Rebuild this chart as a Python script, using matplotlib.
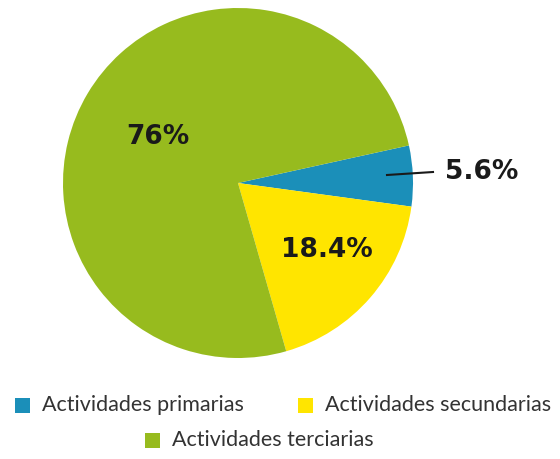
import matplotlib.pyplot as plt
from matplotlib.patches import Rectangle

# Datos
categorias = ["Actividades primarias", "Actividades secundarias", "Actividades terciarias"]
valores = [5.6, 18.4, 76]
etiquetas = ["5.6%", "18.4%", "76%"]
colores = ["#1b8fb9", "#ffe500", "#97bb1e"]

fig = plt.figure(figsize=(5.6, 4.59), dpi=100)
ax = fig.add_axes([0, 0, 1, 1])

# pie (centro y radio en pixeles de la figura)
cx, cy, r = 238, 276, 175
ax.pie(valores, colors=colores, startangle=12.4, counterclock=False,
       center=(cx, cy), radius=r, frame=True,
       wedgeprops=dict(linewidth=0))
ax.set_xlim(0, 560)
ax.set_ylim(0, 459)
ax.axis("off")

# etiquetas de porcentaje
txt = dict(fontsize=19, fontweight="bold", color="#1a1a1a", va="center")
ax.text(158, 322, etiquetas[2], ha="center", **txt)
ax.text(327, 209, etiquetas[1], ha="center", **txt)
ax.text(445, 287, etiquetas[0], ha="left", **txt)
ax.plot([387, 433], [284, 287], color="#1a1a1a", lw=1.5)

# leyenda manual
filas = [(15, 54, 0), (298, 54, 1), (145, 19, 2)]
for x, y, i in filas:
    ax.add_patch(Rectangle((x, y - 7.5), 15, 15, color=colores[i], lw=0))
    ax.text(x + 27, y, categorias[i], fontsize=15.5, family="Lato",
            color="#333333", va="center", ha="left")

fig.savefig("out.png", dpi=100)
